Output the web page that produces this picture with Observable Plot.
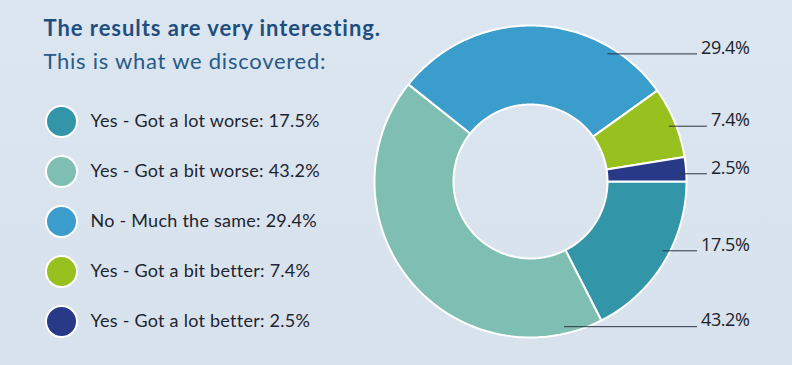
<!DOCTYPE html>
<html>
<head>
<meta charset="utf-8">
<script src="https://cdn.jsdelivr.net/npm/d3@7"></script>
<script src="https://cdn.jsdelivr.net/npm/@observablehq/plot@0.6"></script>
<style>
  html, body { margin: 0; padding: 0; }
  body { width: 792px; height: 365px; overflow: hidden;
         background: linear-gradient(180deg, #dbe6f0 0%, #d7e2ec 100%); }
</style>
</head>
<body>
<div id="chart"></div>
<script>
// ---- data ----
const categories = ["Yes - Got a lot worse", "Yes - Got a bit worse", "No - Much the same", "Yes - Got a bit better", "Yes - Got a lot better"];
const values = [17.5, 43.2, 29.4, 7.4, 2.5];
const colors = ["#3396a8", "#7fbfb3", "#3b9dcb", "#98c11f", "#283a87"];
const titleText = "The results are very interesting.";
const subtitleText = "This is what we discovered:";

// ---- layout ----
const W = 792, H = 365;
const cx = 530, cy = 181, R = 156, r0 = 77;
const leaderAt = [0.44, 0.09, 0.78, 0.52, 0.67]; // where, along each slice, the leader starts
const leaderR = 149;
const labelRight = 749;
const pctFont = "Open Sans, Lato, sans-serif";
const legFont = "Lato, Open Sans, sans-serif";

const pie = d3.pie().sort(null).value(d => d.value).startAngle(0).endAngle(2 * Math.PI);
const rows = categories.map((c, i) => ({cat: c, value: values[i], color: colors[i], i}));
const arcs = pie(rows);

// polygon points for each ring slice (angle measured clockwise from 3 o'clock)
const ringPts = [];
for (const a of arcs) {
  const n = Math.max(4, Math.ceil((a.endAngle - a.startAngle) / (Math.PI / 180)));
  for (let k = 0; k <= n; k++) {
    const t = a.startAngle + (a.endAngle - a.startAngle) * k / n;
    ringPts.push({cat: a.data.cat, x: cx + R * Math.cos(t), y: cy + R * Math.sin(t)});
  }
  for (let k = n; k >= 0; k--) {
    const t = a.startAngle + (a.endAngle - a.startAngle) * k / n;
    ringPts.push({cat: a.data.cat, x: cx + r0 * Math.cos(t), y: cy + r0 * Math.sin(t)});
  }
}

// measure text widths for leader ends
const ctx = document.createElement("canvas").getContext("2d");
ctx.font = `400 18px ${pctFont}`;
const pctSpacing = -0.4;
const labels = arcs.map((a, i) => {
  const t = a.startAngle + (a.endAngle - a.startAngle) * leaderAt[i];
  const ax = cx + leaderR * Math.cos(t), ay = cy + leaderR * Math.sin(t);
  const txt = a.data.value.toFixed(1) + "%";
  const w = ctx.measureText(txt).width + pctSpacing * txt.length;
  return {txt, x1: ax, y1: ay, x2: labelRight - w - 4, y2: ay};
});

const legend = rows.map((d, i) => ({...d, lx: 61, ly: 121 + i * 50, label: `${d.cat}: ${d.value}%`}));

const chart = Plot.plot({
  width: W, height: H, margin: 0,
  x: {domain: [0, W], range: [0, W], axis: null},
  y: {domain: [0, H], range: [0, H], axis: null},
  color: {domain: categories, range: colors},
  style: {background: "transparent", overflow: "visible"},
  marks: [
    Plot.line(ringPts, {x: "x", y: "y", z: "cat", fill: "cat", stroke: "white", strokeWidth: 2, curve: "linear-closed"}),
    Plot.link(labels, {x1: "x1", y1: "y1", x2: "x2", y2: "y2", stroke: "#2b3440", strokeWidth: 1}),
    Plot.text(labels, {x: () => labelRight, y: d => d.y1 - 6, text: "txt", textAnchor: "end",
      fontSize: 18, fontWeight: 400, fontFamily: pctFont, fill: "#1b222c"}),
    Plot.dot(legend, {x: "lx", y: "ly", r: 15.5, fill: "cat", stroke: "white", strokeWidth: 2}),
    Plot.text(legend, {x: d => d.lx + 29, y: "ly", text: "label", textAnchor: "start",
      fontSize: 18, fontFamily: legFont, fill: "#1e2430"}),
    Plot.text([titleText], {x: () => 43, y: () => 28, text: d => d, textAnchor: "start",
      fontSize: 22, fontWeight: "bold", fontFamily: legFont, fill: "#1f4f7e"}),
    Plot.text([subtitleText], {x: () => 43, y: () => 61, text: d => d, textAnchor: "start",
      fontSize: 22, fontFamily: legFont, fill: "#275a89"})
  ]
});
// letter spacing per text mark (pct labels, legend, title, subtitle)
const spacings = [pctSpacing, 0.25, 0.95, 0.75];
d3.select(chart).selectAll("g[aria-label='text']").each(function(_, k) {
  this.setAttribute("letter-spacing", spacings[k] + "px");
});
document.getElementById("chart").appendChild(chart);
</script>
</body>
</html>
